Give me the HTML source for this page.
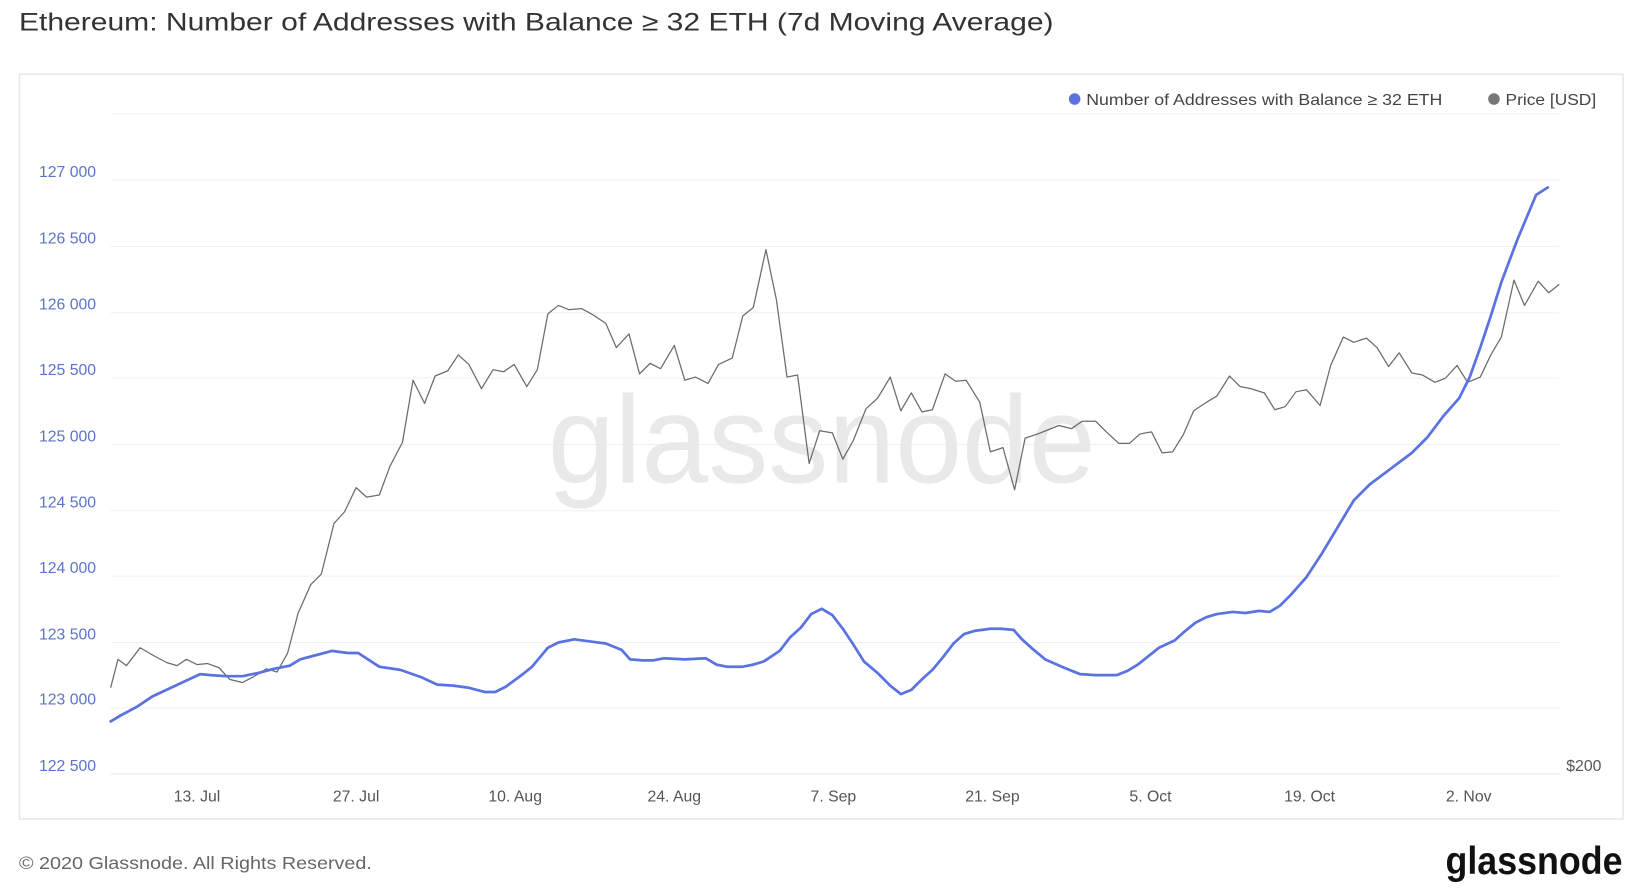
<!DOCTYPE html>
<html><head><meta charset="utf-8"><style>
html,body{margin:0;padding:0;background:#fff;width:1652px;height:890px;overflow:hidden}
svg{display:block}
text{font-family:"Liberation Sans",sans-serif}
</style></head><body>
<svg width="1652" height="890" viewBox="0 0 1568 845" preserveAspectRatio="none" xmlns="http://www.w3.org/2000/svg">
<text x="18" y="29" font-size="24" fill="#333" textLength="982" lengthAdjust="spacingAndGlyphs">Ethereum: Number of Addresses with Balance ≥ 32 ETH (7d Moving Average)</text>
<rect x="18.5" y="70.5" width="1522" height="707" fill="#fff" stroke="#e8e8e8" stroke-width="1.5"/>
<g stroke="#f0f0f0" stroke-width="1">
<line x1="105" x2="1480" y1="108" y2="108"/>
<line x1="105" x2="1480" y1="171" y2="171"/>
<line x1="105" x2="1480" y1="234" y2="234"/>
<line x1="105" x2="1480" y1="297" y2="297"/>
<line x1="105" x2="1480" y1="359" y2="359"/>
<line x1="105" x2="1480" y1="422" y2="422"/>
<line x1="105" x2="1480" y1="485" y2="485"/>
<line x1="105" x2="1480" y1="547" y2="547"/>
<line x1="105" x2="1480" y1="610" y2="610"/>
<line x1="105" x2="1480" y1="672" y2="672"/>
<line x1="105" x2="1480" y1="735" y2="735" stroke="#e6e6e6"/>
</g>
<g font-size="15" fill="#5b73c9">
<text x="37" y="168">127 000</text>
<text x="37" y="231">126 500</text>
<text x="37" y="294">126 000</text>
<text x="37" y="356">125 500</text>
<text x="37" y="419">125 000</text>
<text x="37" y="482">124 500</text>
<text x="37" y="544">124 000</text>
<text x="37" y="607">123 500</text>
<text x="37" y="669">123 000</text>
<text x="37" y="732">122 500</text>
</g>
<text x="1520" y="732" font-size="15" fill="#555" text-anchor="end">$200</text>
<g font-size="15" fill="#555" text-anchor="middle">
<text x="187" y="761">13. Jul</text>
<text x="338" y="761">27. Jul</text>
<text x="489" y="761">10. Aug</text>
<text x="640" y="761">24. Aug</text>
<text x="791" y="761">7. Sep</text>
<text x="942" y="761">21. Sep</text>
<text x="1092" y="761">5. Oct</text>
<text x="1243" y="761">19. Oct</text>
<text x="1394" y="761">2. Nov</text>
</g>
<text x="520" y="458" font-size="118" fill="#e9e9e9" textLength="520" lengthAdjust="spacingAndGlyphs">glassnode</text>
<circle cx="1020" cy="94" r="5.5" fill="#5b73e0"/>
<text x="1031" y="99.5" font-size="15" fill="#444" textLength="338" lengthAdjust="spacingAndGlyphs">Number of Addresses with Balance ≥ 32 ETH</text>
<circle cx="1418" cy="94" r="5.5" fill="#777"/>
<text x="1429" y="99.5" font-size="15" fill="#444" textLength="86" lengthAdjust="spacingAndGlyphs">Price [USD]</text>
<polyline fill="none" stroke="#6c6c6c" stroke-width="1.2" stroke-linejoin="round" points="105,653 112,626 120,632 133,615 145,622 158,629 168,632 177,626 187,631 197,630 208,634 218,645 230,648 240,643 253,635 263,638 273,620 283,582 295,555 305,545 317,497 327,486 338,463 348,472 360,470 370,443 382,420 392,361 403,383 413,357 425,352 435,337 445,346 457,369 468,351 478,353 488,346 500,367 510,351 520,298 530,290 540,294 552,293 563,299 575,307 585,330 597,317 607,355 617,345 627,350 640,328 650,361 660,358 672,364 682,346 695,340 705,300 715,292 727,237 737,285 747,358 757,356 768,440 778,409 790,411 800,436 810,418 822,388 833,378 845,358 855,390 865,373 875,391 885,389 897,355 907,362 917,361 930,382 940,429 952,425 963,465 973,416 985,412 995,408 1005,404 1017,407 1027,400 1040,400 1050,410 1062,421 1072,421 1082,412 1093,410 1103,430 1113,429 1123,413 1133,390 1145,382 1155,376 1167,357 1177,367 1187,369 1200,373 1210,389 1220,386 1230,372 1240,370 1253,385 1263,347 1275,320 1285,325 1297,321 1307,330 1318,348 1328,335 1340,354 1350,356 1362,363 1372,359 1383,347 1393,363 1405,358 1415,337 1425,320 1437,266 1447,290 1460,267 1470,278 1480,270"/>
<polyline fill="none" stroke="#5b73e0" stroke-width="2.6" stroke-linejoin="round" stroke-linecap="round" points="105,685 115,679 130,671 145,661 160,654 175,647 190,640 200,641 215,642 230,642 245,639 260,635 275,632 285,626 300,622 315,618 330,620 340,620 360,633 380,636 400,643 415,650 430,651 445,653 460,657 470,657 480,652 495,641 505,633 520,615 530,610 545,607 560,609 575,611 590,617 598,626 610,627 620,627 630,625 650,626 670,625 680,631 690,633 705,633 715,631 725,628 740,618 750,605 760,596 770,583 780,578 790,584 800,597 810,612 820,628 833,639 845,651 855,659 865,655 875,645 885,636 895,624 905,611 915,602 925,599 940,597 950,597 962,598 970,607 980,616 992,626 1010,634 1025,640 1040,641 1060,641 1070,637 1080,631 1090,623 1100,615 1115,608 1125,599 1135,591 1145,586 1155,583 1170,581 1182,582 1195,580 1205,581 1215,575 1225,565 1240,548 1255,525 1270,500 1285,475 1300,460 1320,445 1340,430 1355,415 1370,395 1385,378 1395,358 1405,330 1415,300 1425,268 1440,228 1458,185 1469,178"/>
<text x="18" y="825" font-size="17" fill="#666" textLength="335" lengthAdjust="spacingAndGlyphs">© 2020 Glassnode. All Rights Reserved.</text>
<text x="1372" y="830" font-size="37" font-weight="bold" fill="#111" textLength="168" lengthAdjust="spacingAndGlyphs">glassnode</text>
</svg>
</body></html>
